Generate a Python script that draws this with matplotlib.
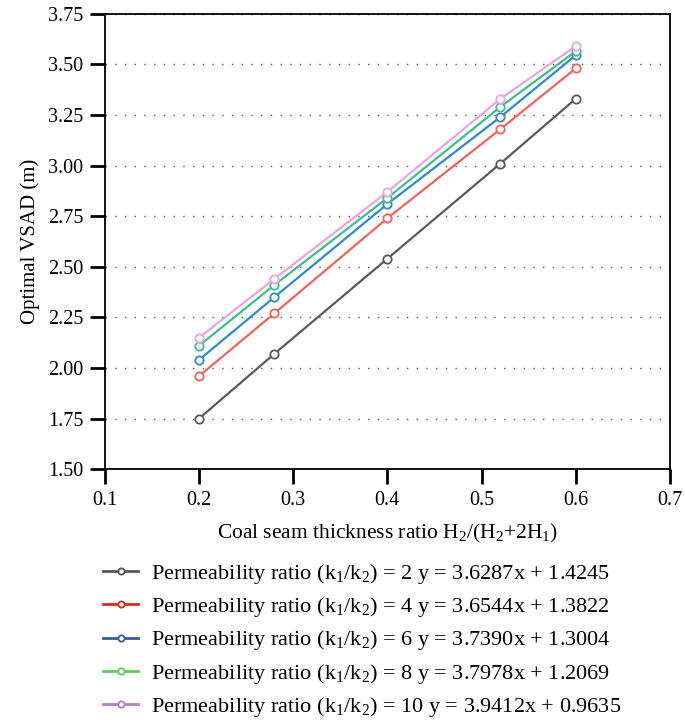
import matplotlib
matplotlib.use("Agg")
import matplotlib.pyplot as plt
from matplotlib.lines import Line2D

plt.rcParams['font.family'] = ['Liberation Serif', 'DejaVu Serif']
plt.rcParams['mathtext.fontset'] = 'custom'
plt.rcParams['mathtext.rm'] = 'Liberation Serif'
plt.rcParams['mathtext.it'] = 'Liberation Serif:italic'

x = [0.2, 0.28, 0.4, 0.52, 0.6]
ratio2 = [1.75, 2.07, 2.54, 3.01, 3.33]
ratio4 = [1.96, 2.27, 2.74, 3.18, 3.48]
ratio6 = [2.04, 2.35, 2.81, 3.24, 3.545]
ratio8 = [2.11, 2.41, 2.84, 3.29, 3.565]
ratio10 = [2.15, 2.44, 2.87, 3.33, 3.59]
series = [ratio2, ratio4, ratio6, ratio8, ratio10]
ratios = ["2", "4", "6", "8", "10"]
equations = ["y = 3.6287x + 1.4245", "y = 3.6544x + 1.3822", "y = 3.7390x + 1.3004",
             "y = 3.7978x + 1.2069", "y = 3.9412x + 0.9635"]
line_colors = ["#5a5a5a", "#f8615a", "#2f8ad0", "#3cc08a", "#eba2e6"]
legend_colors = ["#555555", "#dd2a1e", "#3a5a9a", "#5dcc5d", "#b877d0"]
xticks = [0.1, 0.2, 0.3, 0.4, 0.5, 0.6, 0.7]
yticks = [1.50, 1.75, 2.00, 2.25, 2.50, 2.75, 3.00, 3.25, 3.50, 3.75]

fig = plt.figure(figsize=(6.85, 7.23), dpi=100)
ax = fig.add_axes([0.153, 0.351, 0.825, 0.630])

for ys, c in zip(series, line_colors):
    ax.plot(x, ys, color=c, lw=1.6, marker='o', ms=6, mfc='white', mec=c, mew=1.3, zorder=3)

ax.set_xlim(0.1, 0.7)
ax.set_ylim(1.5, 3.75)
ax.set_xticks(xticks)
ax.set_xticklabels([f"{t:.1f}" for t in xticks])
ax.set_yticks(yticks)
ax.set_yticklabels([f"{t:.2f}" for t in yticks])
ax.tick_params(direction='out', length=10.5, width=2, labelsize=14.5, colors='black', pad=5)
for s in ax.spines.values():
    s.set_linewidth(1.3)
ax.yaxis.grid(True, linestyle=(0, (1, 6)), color='#555555', lw=1.0)
ax.set_axisbelow(True)

ax.set_xlabel(r"Coal seam thickness ratio H$\mathregular{_2}$/(H$\mathregular{_2}$+2H$\mathregular{_1}$)",
              fontsize=15.5, labelpad=9)
ax.set_ylabel("Optimal VSAD (m)", fontsize=15, labelpad=6)

handles = [Line2D([0], [0], color=c, lw=2, marker='o', ms=4.5, mfc='white', mec=c, mew=1.3)
           for c in legend_colors]
labels = [rf"Permeability ratio (k$\mathregular{{_1}}$/k$\mathregular{{_2}}$) = {r} {e}"
          for r, e in zip(ratios, equations)]
fig.legend(handles, labels, loc='upper left', bbox_to_anchor=(0.137, 0.2355),
           frameon=False, fontsize=16, handlelength=1.6, handletextpad=0.56,
           labelspacing=0.42, borderaxespad=0)

fig.savefig("out.png", dpi=100)
